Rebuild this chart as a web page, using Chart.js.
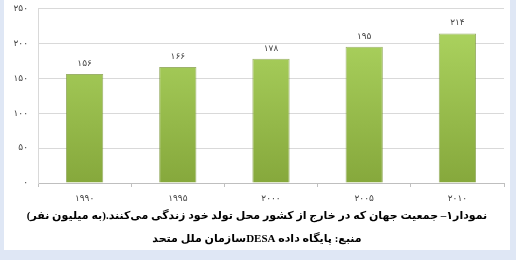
<!DOCTYPE html>
<html>
<head>
<meta charset="utf-8">
<script src="https://cdn.jsdelivr.net/npm/chart.js@4"></script>
<style>
  html, body { margin: 0; padding: 0; }
  body { width: 516px; height: 260px; background: #dfe7f5; position: relative; overflow: hidden; }
  #panel { position: absolute; left: 4px; top: 0; width: 506px; height: 250px; background: #fff; overflow: hidden; }
  #wrap { position: absolute; left: 0; top: -7px; width: 506px; height: 213px; }
  .cap { position: absolute; left: 0; width: 506px; text-align: center; direction: rtl;
         font-family: "Liberation Serif", "DejaVu Sans", serif; font-weight: bold; color: #000; white-space: nowrap; }
  #cap1 { top: 205px; font-size: 11px; line-height: 20px; }
  #cap2 { top: 228px; font-size: 11px; line-height: 20px; }
</style>
</head>
<body>
<div id="panel">
  <div id="wrap"><canvas id="chart"></canvas></div>
  <div class="cap" id="cap1">نمودار۱– جمعیت جهان که در خارج از کشور محل تولد خود زندگی می‌کنند.(به میلیون نفر)</div>
  <div class="cap" id="cap2">منبع: پایگاه داده  DESAسازمان ملل متحد</div>
</div>
<script>
const years = ["۱۹۹۰", "۱۹۹۵", "۲۰۰۰", "۲۰۰۵", "۲۰۱۰"];
const migrants = [156, 166, 178, 195, 214];
const yMin = 0, yMax = 250, yStep = 50;

function toFa(n) {
    return String(n).replace(/\d/g, d => "۰۱۲۳۴۵۶۷۸۹"[d]);
}

// labels above each bar
const valueLabels = {
    id: "valueLabels",
    afterDatasetsDraw(chart) {
        let ctx = chart.ctx;
        ctx.save();
        ctx.font = "9px 'DejaVu Sans'";
        ctx.fillStyle = "#444";
        ctx.textAlign = "center";
        ctx.textBaseline = "bottom";
        chart.getDatasetMeta(0).data.forEach((bar, i) => {
            ctx.fillText(toFa(migrants[i]), bar.x, bar.y - 6);
        });
        ctx.restore();
    }
};

let ctx = document.getElementById("chart").getContext("2d");
new Chart(ctx, {
    type: "bar",
    data: {
        labels: years,
        datasets: [{
            data: migrants,
            backgroundColor: function (c) {
                let area = c.chart.chartArea;
                if (!area) return "#9ec24d";
                let g = c.chart.ctx.createLinearGradient(0, area.top, 0, area.bottom);
                g.addColorStop(0, "#b0d863");
                g.addColorStop(1, "#86a83c");
                return g;
            },
            borderColor: "rgba(115,145,45,0.7)",
            borderWidth: 1,
            borderSkipped: "bottom",
            barPercentage: 0.4,
            categoryPercentage: 1
        }]
    },
    options: {
        responsive: true,
        maintainAspectRatio: false,
        animation: false,
        layout: { padding: { top: 4, right: 6, left: 0, bottom: 0 } },
        plugins: { legend: { display: false }, tooltip: { enabled: false } },
        scales: {
            x: {
                grid: { drawOnChartArea: false, offset: true, tickLength: 4, color: "#bfbfbf" },
                border: { color: "#bfbfbf" },
                ticks: { font: { size: 9, family: "DejaVu Sans" }, color: "#444", padding: 6 },
                afterFit: function (s) { s.height = 23; }
            },
            y: {
                min: yMin, max: yMax,
                grid: { color: "#d9d9d9", drawTicks: false },
                border: { color: "#d9d9d9" },
                ticks: { stepSize: yStep, font: { size: 9, family: "DejaVu Sans" }, color: "#444", padding: 10,
                         callback: v => toFa(v) },
                afterFit: function (s) { s.width = 34; }
            }
        }
    },
    plugins: [valueLabels]
});
</script>
</body>
</html>
